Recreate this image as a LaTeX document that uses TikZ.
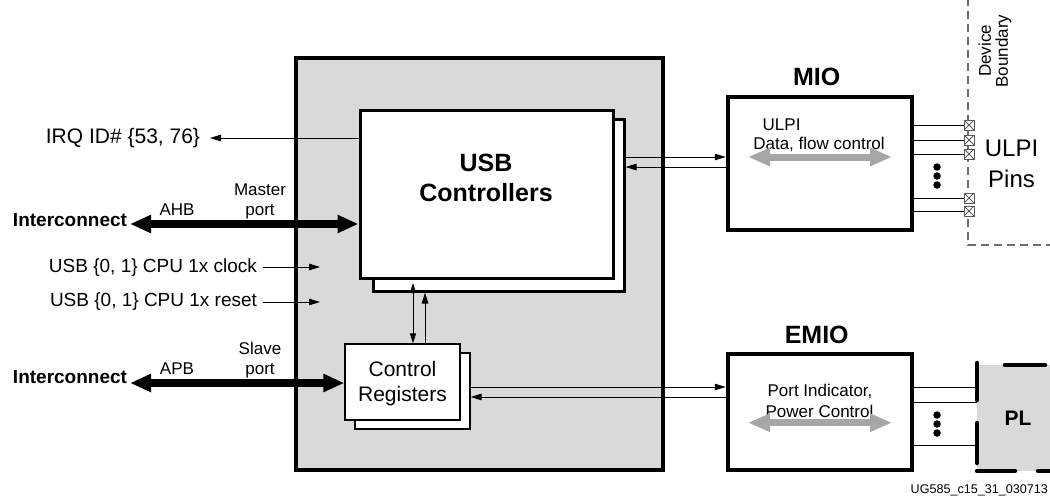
\documentclass[tikz,border=0pt]{standalone}
\usepackage{fontspec}
\setmainfont{Liberation Sans}
\usetikzlibrary{arrows.meta,fit,calc}
\definecolor{boxgray}{RGB}{217,217,217}
\definecolor{arrowgray}{RGB}{166,166,166}
\definecolor{bndgray}{RGB}{110,110,110}
\definecolor{pingray}{RGB}{90,90,90}
\newcommand{\fsz}[1]{\fontsize{#1}{#1}\selectfont}
\begin{document}
\begin{tikzpicture}[x=1pt,y=-1pt,
  lbl/.style={inner sep=0pt, outer sep=0pt},
  chip/.style={draw, line width=4.5pt, fill=boxgray, inner sep=0pt},
  blockbox/.style={draw, line width=4.5pt, fill=white, inner sep=0pt},
  usbbox/.style={draw, line width=3pt, fill=white, inner sep=0pt},
  regbox/.style={draw, line width=1.2pt, fill=white, inner sep=0pt},
  tline/.style={line width=1pt},
  tarrow/.style={line width=1pt, -{Triangle[length=11pt,width=6.5pt]}},
  tdouble/.style={line width=1pt, {Triangle[length=10pt,width=6pt]}-{Triangle[length=10pt,width=6pt]}},
  busarrow/.style={line width=7.5pt, {Triangle[length=21pt,width=17pt]}-{Triangle[length=21pt,width=17pt]}},
  grayarrow/.style={line width=7pt, draw=arrowgray, arrowgray, {Triangle[length=22pt,width=17pt]}-{Triangle[length=22pt,width=17pt]}},
  pin/.style={draw=pingray, line width=0.8pt, minimum size=10pt, inner sep=0pt, fill=white,
    path picture={\draw[pingray, line width=0.8pt] (path picture bounding box.north west) -- (path picture bounding box.south east)
      (path picture bounding box.north east) -- (path picture bounding box.south west);}},
  dot/.style={circle, fill=black, inner sep=0pt, minimum size=7.5pt},
  pldash/.style={line width=4.5pt, line cap=round},
  bnd/.style={draw=bndgray, line width=1.2pt, dash pattern=on 8pt off 5pt}
]
\useasboundingbox (0,0) rectangle (1050,498);

% boxes
\node[chip, fit={(296,58) (663,470)}] (ps) {};
\node[usbbox, fit={(373,119) (624,291)}] (usbb) {};
\node[usbbox, fit={(360,110) (613,278)}] (usbf) {};
\node[regbox, fit={(355,353) (470,429)}] (ctrlb) {};
\node[regbox, fit={(345,344) (460,420)}] (ctrlf) {};
\node[blockbox, fit={(728,97) (912,230)}] (mio) {};
\node[blockbox, fit={(728,354) (912,470)}] (emio) {};
\node[fill=boxgray, inner sep=0pt, fit={(977,365) (1080,471)}] (pl) {};
\draw[pldash] (977,363) -- (977,400);
\draw[pldash] (977,423) -- (977,463);
\draw[pldash] (977,471) -- (1015,471);
\draw[pldash] (1038,471) -- (1070,471);
\draw[pldash] (1005,365) -- (1045,365);

% device boundary
\coordinate (bndtop) at (968,-2);
\coordinate (bndcorner) at (968,245);
\coordinate (bndright) at (1060,245);
\draw[bnd] (bndtop) -- (bndcorner) -- (bndright);

% texts
\node[lbl, font=\fsz{21}, anchor=base east] (irq) at (200,143.3) {IRQ ID\# \{53, 76\}};
\node[lbl, font=\bfseries\fsz{19}, anchor=base east] (icA) at (127,226) {Interconnect};
\node[lbl, font=\fsz{17}, anchor=base] (ahb) at (177,215) {AHB};
\node[lbl, font=\fsz{17}, anchor=base] (master1) at (260,195) {Master};
\node[lbl, font=\fsz{17}, anchor=base] (master2) at (260,215) {port};
\node[lbl, font=\fsz{19}, anchor=base east] (clk) at (257,272.7) {USB \{0, 1\} CPU 1x clock};
\node[lbl, font=\fsz{19}, anchor=base east] (rst) at (257,306.7) {USB \{0, 1\} CPU 1x reset};
\node[lbl, font=\bfseries\fsz{19}, anchor=base east] (icB) at (127,383.3) {Interconnect};
\node[lbl, font=\fsz{17}, anchor=base] (apb) at (177,374) {APB};
\node[lbl, font=\fsz{17}, anchor=base] (slave1) at (260,354) {Slave};
\node[lbl, font=\fsz{17}, anchor=base] (slave2) at (260,374) {port};
\node[lbl, font=\bfseries\fsz{25}, anchor=base] (usbt1) at (486,171.7) {USB};
\node[lbl, font=\bfseries\fsz{25}, anchor=base] (usbt2) at (486,201.7) {Controllers};
\node[lbl, font=\fsz{21}, anchor=base] (ctrlt1) at (402.5,376) {Control};
\node[lbl, font=\fsz{21}, anchor=base] (ctrlt2) at (402.5,401.7) {Registers};
\node[lbl, font=\bfseries\fsz{25}, anchor=base] (miot) at (816.7,85) {MIO};
\node[lbl, font=\fsz{17}, anchor=base west] (ulpis) at (762.7,130) {ULPI};
\node[lbl, font=\fsz{17}, anchor=base] (dfc) at (819,149) {Data, flow control};
\node[lbl, font=\fsz{24}, anchor=base] (ulpib) at (1011.5,156.7) {ULPI};
\node[lbl, font=\fsz{24}, anchor=base] (pins) at (1011.5,187) {Pins};
\node[lbl, font=\fsz{17}, rotate=90, align=center] (devb) at (995,51) {Device\\Boundary};
\node[lbl, font=\bfseries\fsz{25}, anchor=base] (emiot) at (816.7,343) {EMIO};
\node[lbl, font=\fsz{17}, anchor=base] (pit) at (820,396.7) {Port Indicator,};
\node[lbl, font=\fsz{17}, anchor=base] (pct) at (819.5,417.3) {Power Control};
\node[lbl, font=\bfseries\fsz{21}, anchor=base] (plt) at (1018,425) {PL};
\node[lbl, font=\fsz{12.6}, anchor=base east] (fig) at (1048,493) {UG585\_c15\_31\_030713};

% gray internal arrows
\coordinate (ga1) at (748,157);
\coordinate (ga2) at (892,157);
\draw[grayarrow] (ga1) -- (ga2);
\coordinate (gb1) at (748,422.7);
\coordinate (gb2) at (892,422.7);
\draw[grayarrow] (gb1) -- (gb2);

% left connectors
\coordinate (irqend) at (210,138);
\draw[tarrow] (usbf.west |- irqend) -- (irqend);
\coordinate (ahbend) at (130,224);
\draw[busarrow] (ahbend) -- (ahbend -| usbf.west);
\coordinate (clks) at (263,267);
\coordinate (clke) at (320,267);
\draw[tarrow] (clks) -- (clke);
\coordinate (rsts) at (263,302);
\coordinate (rste) at (320,302);
\draw[tarrow] (rsts) -- (rste);
\coordinate (apbend) at (130,383);
\draw[busarrow] (apbend) -- (apbend -| ctrlf.west);

% vertical connectors
\coordinate (va) at (413,283);
\draw[tdouble] (va) -- (va |- ctrlf.north);
\coordinate (vb) at (425,300);
\draw[tarrow] (vb |- ctrlf.north) -- (vb |- usbb.south);

% USB <-> MIO
\coordinate (m1) at (700,157);
\coordinate (m2) at (700,167);
\draw[tarrow] (m1 -| usbb.east) -- (m1 -| mio.west);
\draw[tarrow] (m2 -| mio.west) -- (m2 -| usbb.east);

% Control <-> EMIO
\coordinate (e1) at (700,387);
\coordinate (e2) at (700,397);
\draw[tarrow] (e1 -| ctrlb.east) -- (e1 -| emio.west);
\draw[tarrow] (e2 -| emio.west) -- (e2 -| ctrlb.east);

% ULPI pins
\foreach \yy/\nm in {125/p1,140/p2,154/p3,198/p4,211/p5}{
  \node[pin] (\nm) at (969,\yy) {};
  \draw[tline] (\nm.west -| mio.east) -- (\nm.west);
}
\node[dot] (md1) at (937,167) {};
\node[dot] (md2) at (937,176) {};
\node[dot] (md3) at (937,185) {};

% EMIO -> PL
\foreach \yy/\nm in {387/q1,402/q2,445/q3}{
  \coordinate (\nm) at (950,\yy);
  \draw[tline] (\nm -| emio.east) -- (\nm -| pl.west);
}
\node[dot] (ed1) at (937,415) {};
\node[dot] (ed2) at (937,424) {};
\node[dot] (ed3) at (937,433) {};
\end{tikzpicture}
\end{document}
